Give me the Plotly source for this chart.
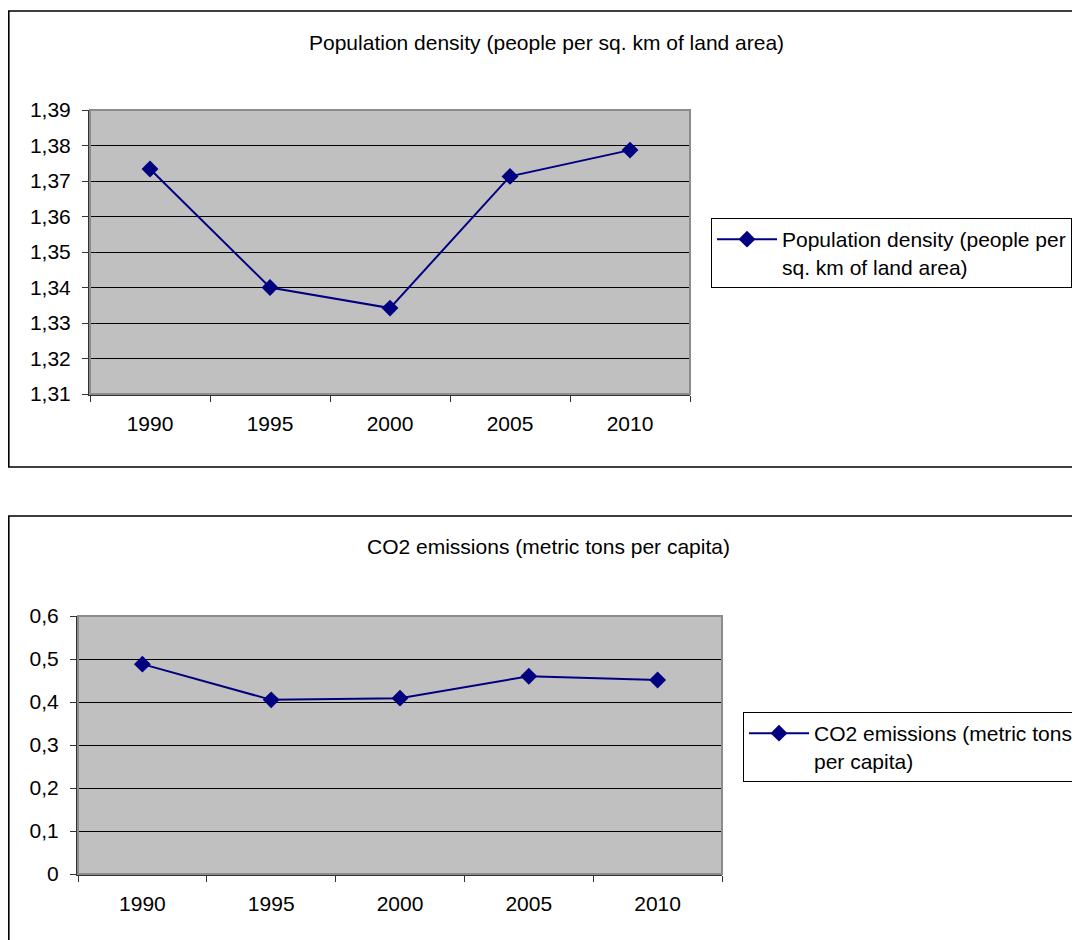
import plotly.graph_objects as go

years = ["1990", "1995", "2000", "2005", "2010"]
pop_density = [1.3734, 1.3400, 1.3342, 1.3713, 1.3787]
co2 = [0.488, 0.405, 0.409, 0.460, 0.451]

pop_ticks = [1.31, 1.32, 1.33, 1.34, 1.35, 1.36, 1.37, 1.38, 1.39]
pop_ticklabels = ["1,31", "1,32", "1,33", "1,34", "1,35", "1,36", "1,37", "1,38", "1,39"]
co2_ticks = [0, 0.1, 0.2, 0.3, 0.4, 0.5, 0.6]
co2_ticklabels = ["0", "0,1", "0,2", "0,3", "0,4", "0,5", "0,6"]

title1 = "Population density (people per sq. km of land area)"
title2 = "CO2 emissions (metric tons per capita)"
legend1 = "Population density (people per<br>sq. km of land area)"
legend2 = "CO2 emissions (metric tons<br>per capita)"

W, H = 1080, 940
OFF = 8  # page body margin
def px(x): return (x - OFF) / W
def py(y): return 1 - (y - OFF) / H

NAVY = "#000080"
FONT = "Liberation Sans, Arial, sans-serif"
FS = 21

fig = go.Figure()
fig.add_trace(go.Scatter(x=years, y=pop_density, mode="lines+markers", name=legend1,
                         line=dict(color=NAVY, width=2),
                         marker=dict(symbol="diamond", size=13, color=NAVY),
                         xaxis="x", yaxis="y", legend="legend"))
fig.add_trace(go.Scatter(x=years, y=co2, mode="lines+markers", name=legend2,
                         line=dict(color=NAVY, width=2),
                         marker=dict(symbol="diamond", size=13, color=NAVY),
                         xaxis="x2", yaxis="y2", legend="legend2"))

xcommon = dict(type="category", tickson="boundaries", ticks="outside", ticklen=6,
               range=[-0.5, len(years) - 0.5],
               tickcolor="#333", showline=True, linecolor="#333", linewidth=2,
               showgrid=False, zeroline=False, ticklabelstandoff=10,
               tickfont=dict(family=FONT, size=FS, color="black"), fixedrange=True)
ycommon = dict(ticks="outside", ticklen=6, tickcolor="#333", showline=True,
               linecolor="#333", linewidth=2, showgrid=True, gridcolor="black",
               gridwidth=1, zeroline=False, ticklabelstandoff=7,
               tickfont=dict(family=FONT, size=FS, color="black"), fixedrange=True)

fig.update_layout(
    width=W, height=H,
    margin=dict(l=0, r=0, t=0, b=0, autoexpand=False),
    paper_bgcolor="white", plot_bgcolor="#C0C0C0",
    font=dict(family=FONT, size=FS, color="black"),
    xaxis=dict(domain=[px(90), px(690)], anchor="y", **xcommon),
    yaxis=dict(domain=[py(394), py(110)], anchor="x", range=[1.31, 1.39],
               tickvals=pop_ticks, ticktext=pop_ticklabels, **ycommon),
    xaxis2=dict(domain=[px(78), px(722)], anchor="y2", **xcommon),
    yaxis2=dict(domain=[py(874), py(616)], anchor="x2", range=[0, 0.6],
                tickvals=co2_ticks, ticktext=co2_ticklabels, **ycommon),
    legend=dict(x=px(711), y=py(218), xanchor="left", yanchor="top",
                bordercolor="black", borderwidth=1, bgcolor="white",
                font=dict(family=FONT, size=FS), valign="top", itemwidth=60,
                tracegroupgap=0),
    legend2=dict(x=px(743), y=py(712), xanchor="left", yanchor="top",
                 bordercolor="black", borderwidth=1, bgcolor="white",
                 font=dict(family=FONT, size=FS), valign="top", itemwidth=60,
                 tracegroupgap=0),
    showlegend=True,
    shapes=[
        dict(type="rect", xref="paper", yref="paper", x0=px(8.8), x1=px(1095),
             y0=py(467), y1=py(11), line=dict(color="black", width=1.6), layer="below"),
        dict(type="rect", xref="paper", yref="paper", x0=px(8.8), x1=px(1095),
             y0=py(990), y1=py(516), line=dict(color="black", width=1.6), layer="below"),
        dict(type="rect", xref="x domain", yref="y domain", x0=0, x1=1, y0=0, y1=1,
             line=dict(color="#8c8c8c", width=2), layer="above"),
        dict(type="rect", xref="x2 domain", yref="y2 domain", x0=0, x1=1, y0=0, y1=1,
             line=dict(color="#8c8c8c", width=2), layer="above"),
    ],
    annotations=[
        dict(text=title1, xref="paper", yref="paper", x=px(546), y=py(42),
             xanchor="center", yanchor="middle", showarrow=False,
             font=dict(family=FONT, size=FS)),
        dict(text=title2, xref="paper", yref="paper", x=px(548), y=py(546),
             xanchor="center", yanchor="middle", showarrow=False,
             font=dict(family=FONT, size=FS)),
    ],
)

fig.write_html("out.html")
